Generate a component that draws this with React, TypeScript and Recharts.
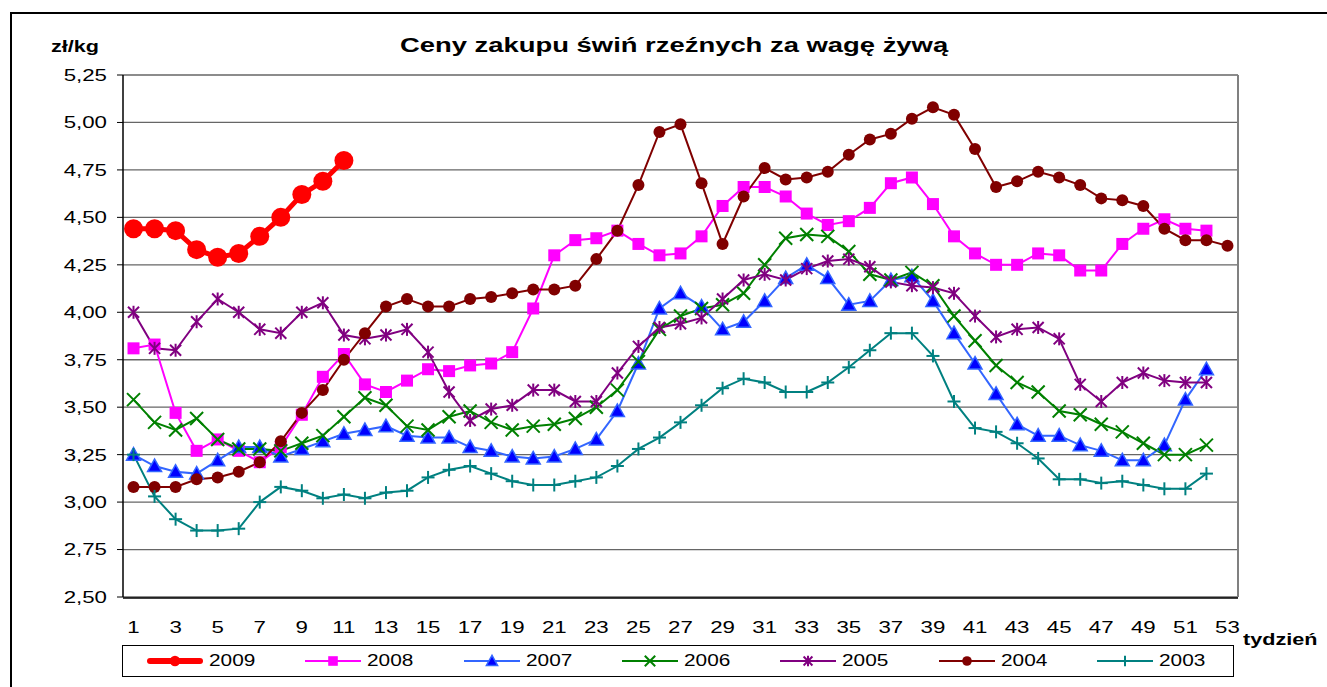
import { LineChart, Line, XAxis, YAxis, CartesianGrid, Legend, ReferenceLine } from 'recharts'

const weeks = [
  1, 2, 3, 4, 5, 6, 7, 8, 9, 10, 11, 12, 13, 14, 15, 16, 17, 18, 19, 20, 21, 22, 23, 24, 25, 26, 27,
  28, 29, 30, 31, 32, 33, 34, 35, 36, 37, 38, 39, 40, 41, 42, 43, 44, 45, 46, 47, 48, 49, 50, 51, 52, 53,
]
const xLabelTicks = [1, 3, 5, 7, 9, 11, 13, 15, 17, 19, 21, 23, 25, 27, 29, 31, 33, 35, 37, 39, 41, 43, 45, 47, 49, 51, 53]
const xMinorTicks = [
  0.5, 1.5, 2.5, 3.5, 4.5, 5.5, 6.5, 7.5, 8.5, 9.5, 10.5, 11.5, 12.5, 13.5, 14.5, 15.5, 16.5, 17.5, 18.5,
  19.5, 20.5, 21.5, 22.5, 23.5, 24.5, 25.5, 26.5, 27.5, 28.5, 29.5, 30.5, 31.5, 32.5, 33.5, 34.5, 35.5,
  36.5, 37.5, 38.5, 39.5, 40.5, 41.5, 42.5, 43.5, 44.5, 45.5, 46.5, 47.5, 48.5, 49.5, 50.5, 51.5, 52.5, 53.5,
]
const yTicks = [2.5, 2.75, 3, 3.25, 3.5, 3.75, 4, 4.25, 4.5, 4.75, 5, 5.25]

const p2009 = [4.44, 4.44, 4.43, 4.33, 4.29, 4.31, 4.4, 4.5, 4.62, 4.69, 4.8]
const p2008 = [
  3.81, 3.83, 3.47, 3.27, 3.33, 3.27, 3.21, 3.29, 3.46, 3.66, 3.78, 3.62, 3.58, 3.64, 3.7, 3.69, 3.72, 3.73,
  3.79, 4.02, 4.3, 4.38, 4.39, 4.43, 4.36, 4.3, 4.31, 4.4, 4.56, 4.66, 4.66, 4.61, 4.52, 4.46, 4.48, 4.55,
  4.68, 4.71, 4.57, 4.4, 4.31, 4.25, 4.25, 4.31, 4.3, 4.22, 4.22, 4.36, 4.44, 4.49, 4.44, 4.43,
]
const p2007 = [
  3.25, 3.19, 3.16, 3.15, 3.22, 3.29, 3.29, 3.24, 3.28, 3.32, 3.36, 3.38, 3.4, 3.35, 3.34, 3.34, 3.29, 3.27,
  3.24, 3.23, 3.24, 3.28, 3.33, 3.48, 3.73, 4.02, 4.1, 4.03, 3.91, 3.95, 4.06, 4.18, 4.25, 4.18, 4.04, 4.06,
  4.17, 4.19, 4.06, 3.89, 3.73, 3.57, 3.41, 3.35, 3.35, 3.3, 3.27, 3.22, 3.22, 3.3, 3.54, 3.7,
]
const p2006 = [
  3.54, 3.42, 3.38, 3.44, 3.33, 3.28, 3.28, 3.27, 3.31, 3.35, 3.45, 3.55, 3.51, 3.4, 3.38, 3.45, 3.48, 3.42,
  3.38, 3.4, 3.41, 3.44, 3.5, 3.59, 3.74, 3.91, 3.98, 4.02, 4.04, 4.1, 4.25, 4.39, 4.41, 4.4, 4.32, 4.2,
  4.17, 4.21, 4.14, 3.98, 3.85, 3.72, 3.63, 3.58, 3.48, 3.46, 3.41, 3.37, 3.31, 3.25, 3.25, 3.3,
]
const p2005 = [
  4.0, 3.81, 3.8, 3.95, 4.07, 4.0, 3.91, 3.89, 4.0, 4.05, 3.88, 3.86, 3.88, 3.91, 3.79, 3.58, 3.43, 3.49,
  3.51, 3.59, 3.59, 3.53, 3.53, 3.68, 3.82, 3.92, 3.94, 3.97, 4.07, 4.17, 4.2, 4.17, 4.23, 4.27, 4.28, 4.24,
  4.16, 4.14, 4.13, 4.1, 3.98, 3.87, 3.91, 3.92, 3.86, 3.62, 3.53, 3.63, 3.68, 3.64, 3.63, 3.63,
]
const p2004 = [
  3.08, 3.08, 3.08, 3.12, 3.13, 3.16, 3.21, 3.32, 3.47, 3.59, 3.75, 3.89, 4.03, 4.07, 4.03, 4.03, 4.07, 4.08,
  4.1, 4.12, 4.12, 4.14, 4.28, 4.43, 4.67, 4.95, 4.99, 4.68, 4.36, 4.61, 4.76, 4.7, 4.71, 4.74, 4.83, 4.91,
  4.94, 5.02, 5.08, 5.04, 4.86, 4.66, 4.69, 4.74, 4.71, 4.67, 4.6, 4.59, 4.56, 4.44, 4.38, 4.38, 4.35,
]
const p2003 = [
  3.25, 3.03, 2.91, 2.85, 2.85, 2.86, 3.0, 3.08, 3.06, 3.02, 3.04, 3.02, 3.05, 3.06, 3.13, 3.17, 3.19, 3.15,
  3.11, 3.09, 3.09, 3.11, 3.13, 3.19, 3.28, 3.34, 3.42, 3.51, 3.6, 3.65, 3.63, 3.58, 3.58, 3.63, 3.71, 3.8,
  3.89, 3.89, 3.77, 3.53, 3.39, 3.37, 3.31, 3.23, 3.12, 3.12, 3.1, 3.11, 3.09, 3.07, 3.07, 3.15,
]

const series = [
  { key: 'y2009', name: '2009', values: p2009, color: '#FF0000', width: 5, marker: 'bigCircle' },
  { key: 'y2008', name: '2008', values: p2008, color: '#FF00FF', width: 2, marker: 'square' },
  { key: 'y2007', name: '2007', values: p2007, color: '#3366FF', width: 2, marker: 'triangle' },
  { key: 'y2006', name: '2006', values: p2006, color: '#008000', width: 2, marker: 'x' },
  { key: 'y2005', name: '2005', values: p2005, color: '#800080', width: 2, marker: 'star' },
  { key: 'y2004', name: '2004', values: p2004, color: '#800000', width: 2, marker: 'circle' },
  { key: 'y2003', name: '2003', values: p2003, color: '#008080', width: 2, marker: 'plus' },
]

const data = weeks.map((week, i) => {
  const row: Record<string, number | null> = { week }
  series.forEach((s) => {
    row[s.key] = s.values[i] ?? null
  })
  return row
})

const FONT = '"Liberation Sans", Arial, sans-serif'
const STRETCH = 1.35

function Marker({ cx, cy, kind, color, k = 1 }: any) {
  if (cx == null || cy == null || isNaN(cx) || isNaN(cy)) return <g />
  const h = 6.5 * k
  switch (kind) {
    case 'bigCircle':
      return <circle cx={cx} cy={cy} r={9.5 * k} fill={color} />
    case 'square':
      return <rect x={cx - 6 * k} y={cy - 6 * k} width={12 * k} height={12 * k} fill={color} />
    case 'triangle':
      return (
        <polygon
          points={`${cx},${cy - 7 * k} ${cx - 7 * k},${cy + 5.5 * k} ${cx + 7 * k},${cy + 5.5 * k}`}
          fill="#0000FF"
          stroke="#3366FF"
          strokeWidth={1.5}
        />
      )
    case 'x':
      return (
        <g stroke={color} strokeWidth={2}>
          <line x1={cx - h} y1={cy - h} x2={cx + h} y2={cy + h} />
          <line x1={cx - h} y1={cy + h} x2={cx + h} y2={cy - h} />
        </g>
      )
    case 'star':
      return (
        <g stroke={color} strokeWidth={2}>
          <line x1={cx - h * 0.85} y1={cy - h * 0.85} x2={cx + h * 0.85} y2={cy + h * 0.85} />
          <line x1={cx - h * 0.85} y1={cy + h * 0.85} x2={cx + h * 0.85} y2={cy - h * 0.85} />
          <line x1={cx} y1={cy - h} x2={cx} y2={cy + h} />
        </g>
      )
    case 'circle':
      return <circle cx={cx} cy={cy} r={6 * k} fill={color} />
    case 'plus':
      return (
        <g stroke={color} strokeWidth={2}>
          <line x1={cx - h} y1={cy} x2={cx + h} y2={cy} />
          <line x1={cx} y1={cy - h} x2={cx} y2={cy + h} />
        </g>
      )
    default:
      return <g />
  }
}

function YTick({ x, y, payload }: any) {
  return (
    <text
      x={x}
      y={y}
      textAnchor="end"
      dominantBaseline="central"
      fontSize={16.5}
      fontFamily={FONT}
      fill="#000"
      transform={`translate(${x} ${y}) scale(${STRETCH} 1) translate(${-x} ${-y})`}
    >
      {payload.value.toFixed(2).replace('.', ',')}
    </text>
  )
}

// labels sit at a fixed height below the plot, independent of axis stacking
function XTick({ x, payload }: any) {
  const ty = 627
  return (
    <text
      x={x}
      y={ty}
      textAnchor="middle"
      dominantBaseline="central"
      fontSize={16.5}
      fontFamily={FONT}
      fill="#000"
      transform={`translate(${x} ${ty}) scale(${STRETCH} 1) translate(${-x} ${-ty})`}
    >
      {payload.value}
    </text>
  )
}

function LegendBox() {
  return (
    <div
      style={{
        width: '100%',
        height: '100%',
        border: '1.5px solid #000',
        boxSizing: 'border-box',
        position: 'relative',
        background: '#fff',
        fontFamily: FONT,
      }}
    >
      {series.map((s, i) => (
        <div
          key={s.key}
          style={{
            position: 'absolute',
            left: 24 + i * 158.3,
            top: 0,
            height: '100%',
            display: 'flex',
            alignItems: 'center',
          }}
        >
          <svg width={56} height={20}>
            <line
              x1={s.width > 2 ? 3 : 0}
              y1={10}
              x2={s.width > 2 ? 53 : 56}
              y2={10}
              stroke={s.color}
              strokeWidth={s.width > 2 ? 6 : 2}
              strokeLinecap={s.width > 2 ? 'round' : 'butt'}
            />
            <Marker cx={28} cy={10} kind={s.marker} color={s.color} k={s.marker === 'bigCircle' ? 0.55 : 0.8} />
          </svg>
          <span
            style={{
              marginLeft: 6,
              fontSize: 16,
              display: 'inline-block',
              transform: 'scaleX(1.3)',
              transformOrigin: 'left center',
            }}
          >
            {s.name}
          </span>
        </div>
      ))}
    </div>
  )
}

export default function App() {
  return (
    <div
      style={{
        position: 'absolute',
        left: 0,
        top: 0,
        width: 1327,
        height: 687,
        overflow: 'hidden',
        background: '#fff',
        fontFamily: FONT,
      }}
    >
      <div
        style={{
          position: 'absolute',
          left: 10,
          top: 12,
          width: 1400,
          height: 800,
          border: '2.5px solid #000',
        }}
      />
      <LineChart
        width={1327}
        height={687}
        data={data}
        margin={{ top: 75, right: 89, bottom: 88, left: 63 }}
      >
        <CartesianGrid horizontal vertical={false} stroke="#666" strokeWidth={1.3} />
        <XAxis
          xAxisId="minor"
          dataKey="week"
          type="number"
          domain={[0.5, 53.5]}
          ticks={xMinorTicks}
          interval={0}
          allowDataOverflow
          height={1}
          tick={false}
          tickSize={5}
          tickLine={{ stroke: '#000', strokeWidth: 1 }}
          axisLine={{ stroke: '#000', strokeWidth: 1.5 }}
        />
        <XAxis
          dataKey="week"
          type="number"
          domain={[0.5, 53.5]}
          ticks={xLabelTicks}
          interval={0}
          allowDataOverflow
          height={1}
          tickLine={false}
          tickSize={0}
          tickMargin={0}
          tick={<XTick />}
          axisLine={false}
        />
        <YAxis
          type="number"
          domain={[2.5, 5.25]}
          ticks={yTicks}
          interval={0}
          width={60}
          tickSize={6}
          tickMargin={10}
          tick={<YTick />}
          tickLine={{ stroke: '#000', strokeWidth: 1 }}
          axisLine={{ stroke: '#000', strokeWidth: 1.5 }}
        />
        <ReferenceLine x={53.5} stroke="#808080" strokeWidth={2} ifOverflow="visible" />
        {series.map((s) => (
          <Line
            key={s.key}
            dataKey={s.key}
            name={s.name}
            type="linear"
            stroke={s.color}
            strokeWidth={s.width}
            connectNulls={false}
            isAnimationActive={false}
            dot={(p: any) => (
              <Marker key={`${s.key}-${p.index}`} cx={p.cx} cy={p.cy} kind={s.marker} color={s.color} />
            )}
            activeDot={false}
          />
        ))}
        <Legend
          layout="horizontal"
          align="center"
          verticalAlign="middle"
          content={<LegendBox />}
          wrapperStyle={{ position: 'absolute', left: 122, top: 645, width: 1112, height: 32 }}
        />
      </LineChart>
      <div
        style={{
          position: 'absolute',
          left: 11,
          top: 33,
          width: 1327,
          textAlign: 'center',
          fontSize: 20,
          lineHeight: '24px',
          fontWeight: 'bold',
        }}
      >
        <span style={{ display: 'inline-block', transform: 'scaleX(1.37)' }}>
          Ceny zakupu świń rzeźnych za wagę żywą
        </span>
      </div>
      <div
        style={{
          position: 'absolute',
          left: 51,
          top: 37,
          fontSize: 16,
          lineHeight: '20px',
          fontWeight: 'bold',
          transform: `scaleX(${STRETCH})`,
          transformOrigin: 'left center',
        }}
      >
        zł/kg
      </div>
      <div
        style={{
          position: 'absolute',
          left: 1243,
          top: 630,
          fontSize: 16,
          lineHeight: '20px',
          fontWeight: 'bold',
          transform: `scaleX(${STRETCH})`,
          transformOrigin: 'left center',
        }}
      >
        tydzień
      </div>
    </div>
  )
}
